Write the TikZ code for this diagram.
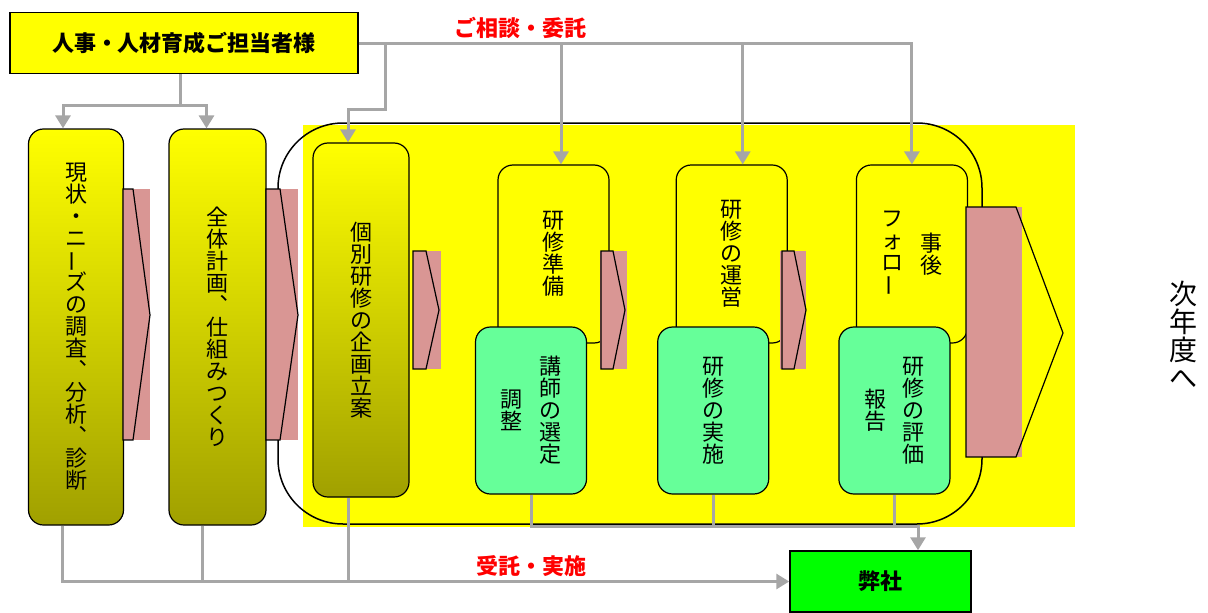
\documentclass[tikz,border=0pt]{standalone}
\usepackage{fontspec}
\usepackage{tikz}
\usetikzlibrary{shapes,arrows.meta,positioning}
\setmainfont{Noto Sans CJK JP}
\makeatletter
\newcommand{\tcol}[1]{\vbox{\baselineskip=1em\lineskiplimit=-\maxdimen\@tfor\tch:=#1\do{\hbox to 1em{\hss\tch\hss}}}}
\makeatother
\newcommand{\cho}{\raisebox{0.12em}{\rotatebox[origin=c]{90}{ー}}}
\newcommand{\tate}[1]{$\vcenter{\tcol{#1}}$}
\newcommand{\tatetwo}[2]{$\vcenter{\tcol{#2}}\hskip16.5pt\vcenter{\tcol{#1}}$}
\definecolor{boxyellow}{RGB}{255,255,0}
\definecolor{midolive}{RGB}{236,236,0}
\definecolor{boxolive}{RGB}{160,160,0}
\definecolor{taskgreen}{RGB}{102,255,153}
\definecolor{usgreen}{RGB}{0,255,0}
\definecolor{chevpink}{RGB}{217,150,148}
\definecolor{linegray}{RGB}{166,166,166}
\definecolor{labelred}{RGB}{255,0,0}
\tikzstyle{client} = [rectangle, draw, line width=1.5pt, minimum height=61pt, font=\bfseries\fontsize{22}{26}\selectfont]
\tikzstyle{phase} = [rectangle, rounded corners=15pt, draw, line width=1.2pt, top color=boxyellow, middle color=midolive, bottom color=boxolive, inner sep=0pt, font=\fontsize{22}{26}\selectfont]
\tikzstyle{task} = [rectangle, rounded corners=15pt, draw, line width=1.2pt, fill=boxyellow, minimum width=111pt, minimum height=178pt, inner sep=0pt, font=\fontsize{22}{26}\selectfont]
\tikzstyle{work} = [task, fill=taskgreen, minimum height=167pt]
\tikzstyle{arrow} = [draw, line width=3pt, color=linegray, -{Triangle[length=13pt,width=15pt]}]
\tikzstyle{line} = [draw, line width=3pt, color=linegray, -]
\tikzstyle{chevron} = [draw, line width=1.2pt, line join=miter]
\tikzstyle{answer} = [color=labelred, font=\bfseries\fontsize{22}{26}\selectfont]

\begin{document}
\begin{tikzpicture}[x=1pt, y=-1pt]
  \useasboundingbox (0,0) rectangle (1208,613);

  % yellow field and the yearly loop
  \fill[boxyellow] (303,125) rectangle (1075,527);
  \draw[line width=1.5pt, rounded corners=65pt] (278,123) rectangle (982,524);

  \node[client, fill=boxyellow, minimum width=348pt] (hr) at (184,43) {人事・人材育成ご担当者様};
  \node[client, fill=usgreen, minimum width=181pt] (us) at (880.5,581.5) {弊社};

  \node[phase, minimum width=95pt, minimum height=396pt] (survey) at (76,327) {\tate{現状・ニ\cho ズの調査︑分析︑診断}};
  \node[phase, minimum width=97pt, minimum height=396pt] (plan) at (217.5,327) {\tate{全体計画︑仕組みつくり}};
  \node[phase, minimum width=96pt, minimum height=354pt] (design) at (361,320) {\tate{個別研修の企画立案}};

  \node[task] (prep) at (553.5,254) {\tate{研修準備}};
  \node[task, right=66pt of prep] (run) {\tate{研修の運営}};
  \node[task, right=68pt of run] (follow) {\tatetwo{事後}{フォロ\cho}};

  \node[work] (select) at (531,410.5) {\tatetwo{講師の選定}{調整}};
  \node[work, right=70pt of select] (conduct) {\tate{研修の実施}};
  \node[work, right=69pt of conduct] (report) {\tatetwo{研修の評価}{報告}};

  % arrows between the steps
  \fill[chevpink] (123,189) rectangle (150,440);
  \draw[chevron] (123,189) -- (133,189) -- (150,315) -- (133,440) -- (123,440) -- cycle;
  \fill[chevpink] (266,189) rectangle (298,440);
  \draw[chevron] (266,189) -- (280,189) -- (298,315) -- (280,440) -- (266,440) -- cycle;
  \fill[chevpink] (413,251) rectangle (441,369);
  \draw[chevron] (413,251) -- (426,251) -- (439,310) -- (426,369) -- (413,369) -- cycle;
  \fill[chevpink] (600,251) rectangle (627,369);
  \draw[chevron] (601,251) -- (613,251) -- (625,310) -- (613,369) -- (601,369) -- cycle;
  \fill[chevpink] (780,251) rectangle (806,369);
  \draw[chevron] (782,251) -- (794,251) -- (806,310) -- (794,369) -- (782,369) -- cycle;
  \fill[chevpink] (966,207) rectangle (1022,457);
  \draw[chevron] (966,207) -- (1016,207) -- (1063,333) -- (1016,457) -- (966,457) -- cycle;

  \node[font=\fontsize{28}{32}\selectfont] (next) at (1183,335) {\tate{次年度へ}};
  \node[answer] (consult) at (520,28) {ご相談・委託};
  \node[answer] (result) at (531,566) {受託・実施};

  \coordinate (split) at (180,105);
  \coordinate (bend) at (385,109);
  \coordinate (collect) at (918,526);

  \path[line] (hr.south -| split) -- (split);
  \path[arrow] (split) -| ([xshift=-13pt]survey.north);
  \path[arrow] (split) -| ([xshift=-11pt]plan.north);

  \path[arrow] (hr.east) -| (follow.north);
  \path[arrow] (bend |- hr.east) -- (bend) -| ([xshift=-13pt]design.north);
  \path[arrow] ([xshift=7.5pt]prep.north |- hr.east) -- ([xshift=7.5pt]prep.north);
  \path[arrow] ([xshift=11pt]run.north |- hr.east) -- ([xshift=11pt]run.north);

  \path[arrow] ([xshift=-14pt]survey.south) |- (us.west);
  \path[line] ([xshift=-15pt]plan.south) -- ([xshift=-15pt]plan.south |- us.west);
  \path[line] ([xshift=-13pt]design.south) -- ([xshift=-13pt]design.south |- us.west);

  \path[arrow] (select.south) |- (collect) -- (collect |- us.north);
  \path[line] (conduct.south) -- (conduct.south |- collect);
  \path[line] (report.south) -- (report.south |- collect);

\end{tikzpicture}
\end{document}
